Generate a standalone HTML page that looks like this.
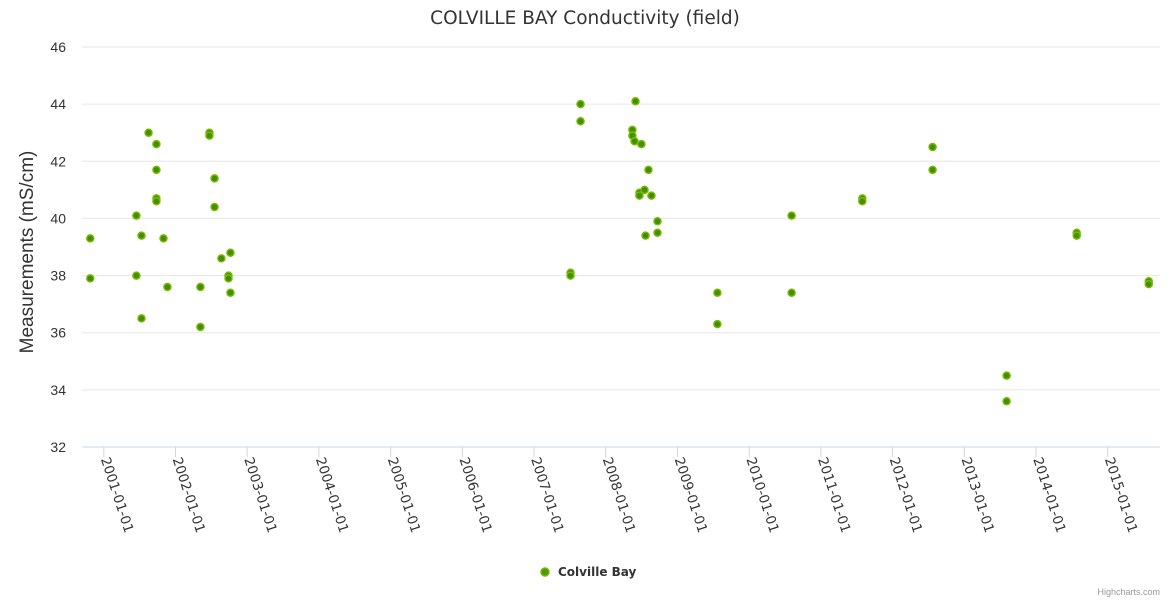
<!DOCTYPE html>
<html><head><meta charset="utf-8"><style>body{margin:0;background:#fff}svg{display:block;font-family:"Liberation Sans","DejaVu Sans",sans-serif}</style></head>
<body>
<svg id="c" width="1170" height="600">
<text x="585" y="24" text-anchor="middle" font-size="18.5" font-family="DejaVu Sans, sans-serif" fill="#333">COLVILLE BAY Conductivity (field)</text>
<text transform="translate(33,252) rotate(-90)" text-anchor="middle" font-size="19" fill="#333">Measurements (mS/cm)</text>
<g id="grid"></g><g id="xaxis"></g><g id="pts"></g>
<g>
<circle cx="545" cy="572" r="4" fill="#4a9a00" stroke="#7ab800" stroke-width="1.5"/>
<text x="558" y="576" font-size="12" font-weight="bold" font-family="DejaVu Sans, sans-serif" fill="#333">Colville Bay</text></g>
<text x="1160" y="595" text-anchor="end" font-size="9" fill="#999">Highcharts.com</text>
</svg>
<script>
const dates=["2000-10-24","2000-10-24","2001-06-16","2001-06-16","2001-07-12","2001-07-12","2001-08-17","2001-09-26","2001-09-26","2001-09-26","2001-09-26","2001-11-01","2001-11-21","2002-05-08","2002-05-08","2002-06-23","2002-06-23","2002-07-19","2002-07-19","2002-08-23","2002-09-28","2002-09-28","2002-10-08","2002-10-08","2007-07-06","2007-07-06","2007-08-26","2007-08-26","2008-05-16","2008-05-16","2008-05-27","2008-06-01","2008-07-01","2008-06-21","2008-06-21","2008-07-22","2008-07-17","2008-08-06","2008-08-21","2008-09-21","2008-09-21","2009-07-23","2009-07-23","2010-08-05","2010-08-05","2011-07-31","2011-07-31","2012-07-23","2012-07-23","2013-08-04","2013-08-04","2014-07-27","2014-07-27","2015-07-29","2015-07-29"];
const values=[39.3,37.9,40.1,38.0,39.4,36.5,43.0,42.6,41.7,40.7,40.6,39.3,37.6,37.6,36.2,43.0,42.9,41.4,40.4,38.6,38.0,37.9,38.8,37.4,38.1,38.0,44.0,43.4,43.1,42.9,42.7,44.1,42.6,40.9,40.8,39.4,41.0,41.7,40.8,39.9,39.5,37.4,36.3,40.1,37.4,40.7,40.6,42.5,41.7,34.5,33.6,39.5,39.4,37.8,37.7];
const yTicks=[32,34,36,38,40,42,44,46];
const xTicks=["2001-01-01","2002-01-01","2003-01-01","2004-01-01","2005-01-01","2006-01-01","2007-01-01","2008-01-01","2009-01-01","2010-01-01","2011-01-01","2012-01-01","2013-01-01","2014-01-01","2015-01-01"];
const NS="http://www.w3.org/2000/svg";
const t0=Date.UTC(2001,0,1);
function X(d){return 103.8+(Date.parse(d+"T00:00:00Z")-t0)/86400000*0.19635;}
function Y(v){return 447-(v-32)*400/14;}
function mk(tag,at,parent){const e=document.createElementNS(NS,tag);for(const k in at)e.setAttribute(k,at[k]);parent.appendChild(e);return e;}
const g=document.getElementById('grid'),xa=document.getElementById('xaxis'),p=document.getElementById('pts');
yTicks.forEach(v=>{
 const l=mk('line',{x1:82,x2:1160,y1:Y(v),y2:Y(v),stroke:v===32?'#ccd6eb':'#e6e6e6','stroke-width':1},g);
 
 
 const t=mk('text',{x:66,y:Y(v)+5,'text-anchor':'end','font-size':14,fill:'#333'},g);
 t.textContent=v;
 
 
});
xTicks.forEach(d=>{
 const x=X(d);
 const l=mk('line',{x1:x,x2:x,y1:447,y2:457,stroke:'#ccd6eb'},xa);
 
 
 const t=mk('text',{transform:`translate(${x-3},459) rotate(72)`,'font-size':13.5,'font-family':'DejaVu Sans, sans-serif',fill:'#333'},xa);
 t.textContent=d;
 
 
});
dates.forEach((d,i)=>{
 const c=mk('circle',{cx:X(d),cy:Y(values[i]),r:3.5,fill:'#3f8f00',stroke:'#7ab800','stroke-width':1.5},p);
 
 
});
</script>
</body></html>
